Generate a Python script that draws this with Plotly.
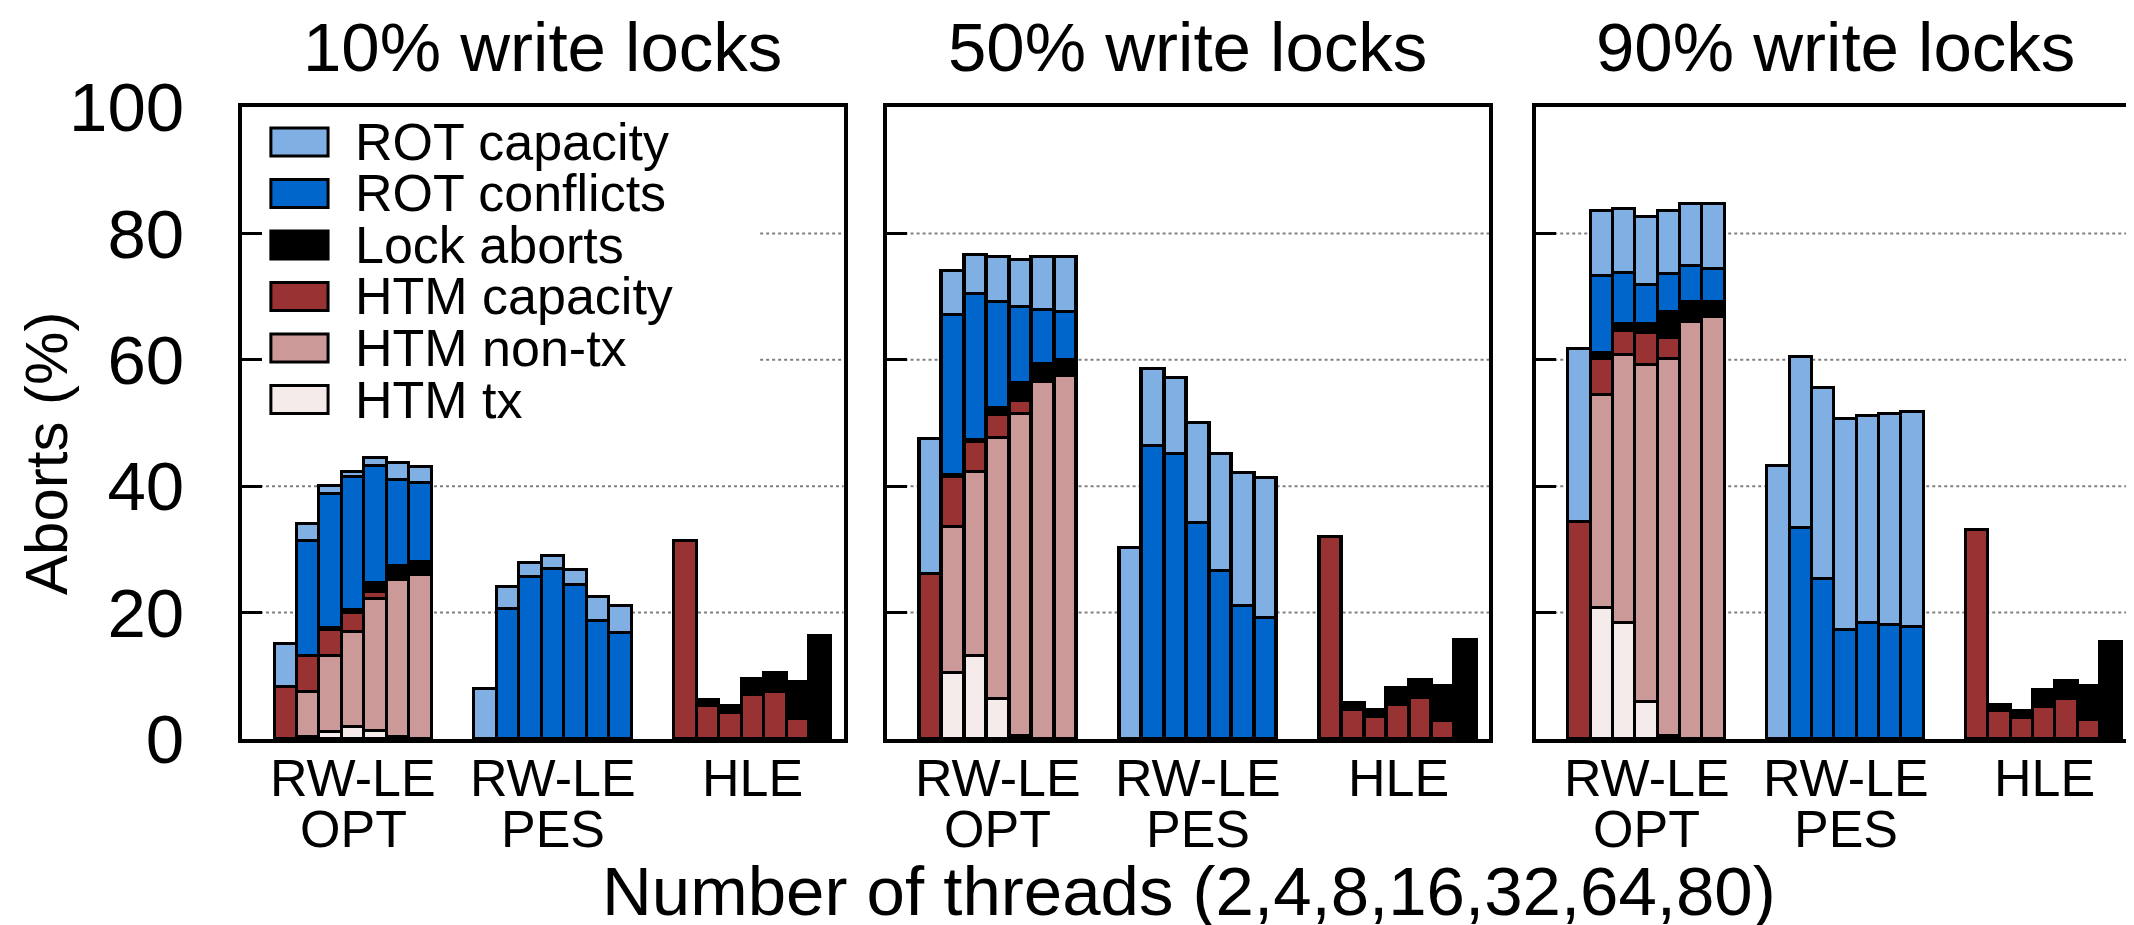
import plotly.graph_objects as go

# threads per group: 2,4,8,16,32,64,80  -> groups: RW-LE OPT | RW-LE PES | HLE
threads = [2, 4, 8, 16, 32, 64, 80]
group_line1 = ["RW-LE", "RW-LE", "HLE"]
group_line2 = ["OPT", "PES", ""]
panel_titles = ["10% write locks", "50% write locks", "90% write locks"]
grid_values = [20, 40, 60, 80]

series_names = ["HTM tx", "HTM non-tx", "HTM capacity", "Lock aborts", "ROT conflicts", "ROT capacity"]
series_colors = ["#f5ebeb", "#cc9999", "#993333", "#000000", "#0066cc", "#80b0e3"]

# each list: 7 OPT values, 7 PES values, 7 HLE values (segment heights, %)
w10_htm_tx = [0, 0.3, 1.1, 1.9, 1.2, 0.3, 0,  0, 0, 0, 0, 0, 0, 0,  0, 0, 0, 0, 0, 0, 0]
w10_htm_nontx = [0, 7.2, 12.1, 15.0, 20.9, 24.9, 26.0,  0, 0, 0, 0, 0, 0, 0,  0, 0, 0, 0, 0, 0, 0]
w10_htm_cap = [8.2, 5.7, 4.1, 3.0, 1.2, 0, 0,  0, 0, 0, 0, 0, 0, 0,  31.3, 5.2, 4.1, 6.9, 7.4, 3.2, 0]
w10_lock = [0, 0, 0.3, 0.5, 1.4, 2.1, 2.0,  0, 0, 0, 0, 0, 0, 0,  0, 1.0, 1.1, 2.6, 3.1, 5.8, 16.3]
w10_rot_conf = [0, 18.1, 21.2, 21.0, 18.5, 13.7, 12.5,  0, 20.5, 25.6, 26.9, 24.3, 18.7, 16.8,  0, 0, 0, 0, 0, 0, 0]
w10_rot_cap = [6.9, 2.7, 1.2, 0.9, 1.2, 2.7, 2.6,  7.9, 3.6, 2.2, 2.0, 2.5, 3.8, 4.3,  0, 0, 0, 0, 0, 0, 0]

w50_htm_tx = [0, 10.5, 13.2, 6.3, 0.5, 0, 0,  0, 0, 0, 0, 0, 0, 0,  0, 0, 0, 0, 0, 0, 0]
w50_htm_nontx = [0, 23.1, 29.0, 41.3, 51.0, 56.5, 57.5,  0, 0, 0, 0, 0, 0, 0,  0, 0, 0, 0, 0, 0, 0]
w50_htm_cap = [26.1, 7.8, 4.8, 3.6, 2.0, 0, 0,  0, 0, 0, 0, 0, 0, 0,  31.9, 4.6, 3.5, 5.4, 6.5, 2.8, 0]
w50_lock = [0, 0.4, 0.3, 1.1, 2.9, 2.9, 2.4,  0, 0, 0, 0, 0, 0, 0,  0, 1.1, 1.1, 2.7, 2.9, 5.6, 15.7]
w50_rot_conf = [0, 25.3, 23.1, 16.9, 12.0, 8.5, 7.6,  0, 46.3, 45.1, 34.1, 26.6, 21.1, 19.2,  0, 0, 0, 0, 0, 0, 0]
w50_rot_cap = [21.4, 7.0, 6.2, 7.0, 7.4, 8.3, 8.8,  30.2, 12.2, 12.0, 15.9, 18.5, 21.0, 22.1,  0, 0, 0, 0, 0, 0, 0]

w90_htm_tx = [0, 20.8, 18.4, 5.8, 0.4, 0, 0,  0, 0, 0, 0, 0, 0, 0,  0, 0, 0, 0, 0, 0, 0]
w90_htm_nontx = [0, 33.7, 42.3, 53.4, 59.8, 66.0, 66.8,  0, 0, 0, 0, 0, 0, 0,  0, 0, 0, 0, 0, 0, 0]
w90_htm_cap = [34.4, 5.7, 3.9, 5.0, 3.3, 0, 0,  0, 0, 0, 0, 0, 0, 0,  33.0, 4.4, 3.4, 5.1, 6.3, 3.0, 0]
w90_lock = [0, 0.8, 1.0, 1.5, 4.0, 3.2, 2.4,  0, 0, 0, 0, 0, 0, 0,  0, 1.0, 1.1, 2.7, 2.9, 5.4, 15.3]
w90_rot_conf = [0, 12.2, 8.2, 6.2, 6.0, 5.6, 5.2,  0, 33.4, 25.3, 17.3, 18.3, 18.0, 17.8,  0, 0, 0, 0, 0, 0, 0]
w90_rot_cap = [27.3, 10.3, 10.0, 10.7, 10.0, 9.8, 10.3,  43.2, 27.0, 30.2, 33.4, 32.8, 33.5, 34.0,  0, 0, 0, 0, 0, 0, 0]

panels = [
    [w10_htm_tx, w10_htm_nontx, w10_htm_cap, w10_lock, w10_rot_conf, w10_rot_cap],
    [w50_htm_tx, w50_htm_nontx, w50_htm_cap, w50_lock, w50_rot_conf, w50_rot_cap],
    [w90_htm_tx, w90_htm_nontx, w90_htm_cap, w90_lock, w90_rot_conf, w90_rot_cap],
]

FONT = "Liberation Sans, Arial, sans-serif"
group_step = 8.9
xmin, xmax = -1.45, 25.35
xpos = [g * group_step + i + 0.5 for g in range(3) for i in range(len(threads))]
group_centers = [g * group_step + 3.5 for g in range(3)]

domains = [[0.0, 0.3179], [0.3405, 0.6589], [0.6837, 1.0]]
legend_right = 0.861  # fraction of panel 1 width covered by the key box
legend_bottom = 50    # y value below which grid lines show under the key

fig = go.Figure()
for p, data in enumerate(panels):
    xa = "x" if p == 0 else "x%d" % (p + 1)
    ya = "y" if p == 0 else "y%d" % (p + 1)
    for name, color, vals in zip(series_names, series_colors, data):
        fig.add_trace(go.Bar(
            x=xpos, y=[v if v else None for v in vals], width=1,
            marker=dict(color=color, line=dict(color="black", width=3.5)),
            name=name, showlegend=False, xaxis=xa, yaxis=ya,
        ))

axis_common = dict(showline=True, mirror=True, linecolor="black", linewidth=4)
for p in range(3):
    sfx = "" if p == 0 else str(p + 1)
    fig.layout["xaxis" + sfx] = dict(
        domain=domains[p], range=[xmin, xmax], showticklabels=False, ticks="",
        showgrid=False, zeroline=False, anchor="y" + sfx, **axis_common)
    fig.layout["yaxis" + sfx] = dict(
        range=[0, 100], dtick=20, ticks="inside", ticklen=20, tickwidth=3, tickcolor="black",
        showticklabels=(p == 0), showgrid=False, zeroline=False, anchor="x" + sfx,
        tickfont=dict(size=69, color="black", family=FONT), ticklabelstandoff=40,
        **axis_common)

annotations = []
shapes = []
for p in range(3):
    sfx = "" if p == 0 else str(p + 1)
    # dotted grid lines (kept off the key box in the first panel)
    for gv in grid_values:
        x0 = xmin
        if p == 0 and gv > legend_bottom:
            x0 = xmin + legend_right * (xmax - xmin)
        shapes.append(dict(type="line", xref="x" + sfx, yref="y" + sfx, x0=x0, x1=xmax,
                           y0=gv, y1=gv, layer="below",
                           line=dict(color="#808080", width=2, dash="dot")))
    annotations.append(dict(text=panel_titles[p], x=sum(domains[p]) / 2, y=1.094,
                            xref="paper", yref="paper", xanchor="center", yanchor="middle",
                            showarrow=False, font=dict(size=69, color="black", family=FONT)))
    for g in range(3):
        annotations.append(dict(text=group_line1[g], x=group_centers[g], y=-0.062, height=48,
                                xref="x" + sfx, yref="paper", xanchor="center", yanchor="middle",
                                showarrow=False, font=dict(size=52, color="black", family=FONT)))
        if group_line2[g]:
            annotations.append(dict(text=group_line2[g], x=group_centers[g], y=-0.142, height=48,
                                    xref="x" + sfx, yref="paper", xanchor="center", yanchor="middle",
                                    showarrow=False, font=dict(size=52, color="black", family=FONT)))

annotations.append(dict(text="Number of threads (2,4,8,16,32,64,80)", x=0.5, y=-0.241, height=72,
                        xref="paper", yref="paper", xanchor="center", yanchor="middle",
                        showarrow=False, font=dict(size=69, color="black", family=FONT)))
annotations.append(dict(text="Aborts (%)", x=-0.103, y=0.451, textangle=-90,
                        xref="paper", yref="paper", xanchor="center", yanchor="middle",
                        showarrow=False, font=dict(size=60, color="black", family=FONT)))

# key drawn by hand (top-left of first panel)
legend_order = list(reversed(range(len(series_names))))
for k, s in enumerate(legend_order):
    yc = 1 - (134 - 99 + 51.5 * k) / 632
    shapes.append(dict(type="rect", xref="x domain", yref="y domain",
                       x0=0.048, x1=0.143, y0=yc - 0.022, y1=yc + 0.022,
                       fillcolor=series_colors[s], line=dict(color="black", width=3), layer="above"))
    annotations.append(dict(text=series_names[s], x=0.185, y=yc, xref="x domain", yref="y domain",
                            xanchor="left", yanchor="middle", showarrow=False,
                            font=dict(size=52, color="black", family=FONT)))

fig.update_layout(
    width=2134, height=925, barmode="stack", bargap=0,
    plot_bgcolor="white", paper_bgcolor="white",
    margin=dict(l=234, r=3, t=99, b=194),
    annotations=annotations, shapes=shapes, showlegend=False,
    font=dict(family=FONT, color="black"),
)

fig.write_html("out.html")
